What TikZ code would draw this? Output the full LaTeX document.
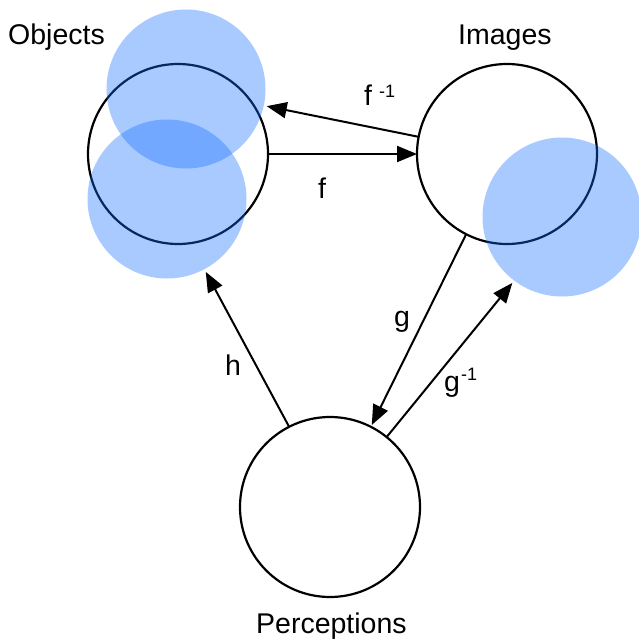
\documentclass[tikz,border=0pt]{standalone}
\usepackage{fontspec}
\setmainfont{Liberation Sans}
\usetikzlibrary{arrows.meta}
\definecolor{selblue}{RGB}{20,110,255}

\begin{document}
\begin{tikzpicture}[x=1pt,y=-1pt,
  setcircle/.style={circle,draw=black,line width=2.2pt,minimum size=180pt,inner sep=0pt,outer sep=0pt},
  halo/.style={circle,fill=selblue,fill opacity=0.37,minimum size=159pt,inner sep=0pt,outer sep=3pt},
  map/.style={line width=2pt,-{Triangle[length=20pt,width=16pt]}},
  lbl/.style={font=\fontsize{28.5}{32}\selectfont,inner sep=0pt,anchor=base west},
  sup/.style={font=\fontsize{18}{20}\selectfont,inner sep=0pt,anchor=base west},
]
\useasboundingbox (0,0) rectangle (638,642);

% the three sets
\node[setcircle] (obj) at (178,154) {};
\node[setcircle] (img) at (507,154) {};
\node[setcircle] (per) at (330,507) {};

% highlighted regions, drawn over the set outlines
\node[halo] (objA) at (186,89) {};
\node[halo] (objB) at (167,199) {};
\node[halo] (imgA) at (562,217) {};

% mappings
\draw[map] (img.169) -- (objA.-12);
\draw[map] (obj.east) -- (img.west);
\draw[map,shorten >=2pt] (img.243) -- (per.63);
\draw[map] (per.51.6) -- (imgA.233.4);
\draw[map] (per.117.7) -- (objB.-62);

% set names
\node[lbl] (tObj) at (8,45) {Objects};
\node[lbl] (tImg) at (458,45) {Images};
\node[lbl] (tPer) at (256,633) {Perceptions};

% mapping labels
\node[lbl] (lfinv) at (364,105) {f};
\node[sup] (lfinvs) at (379,97) {-1};
\node[lbl] (lf) at (318,198) {f};
\node[lbl] (lg) at (394,326) {g};
\node[lbl] (lginv) at (444,391) {g};
\node[sup] (lginvs) at (461,380) {-1};
\node[lbl] (lh) at (225,375) {h};
\end{tikzpicture}
\end{document}
